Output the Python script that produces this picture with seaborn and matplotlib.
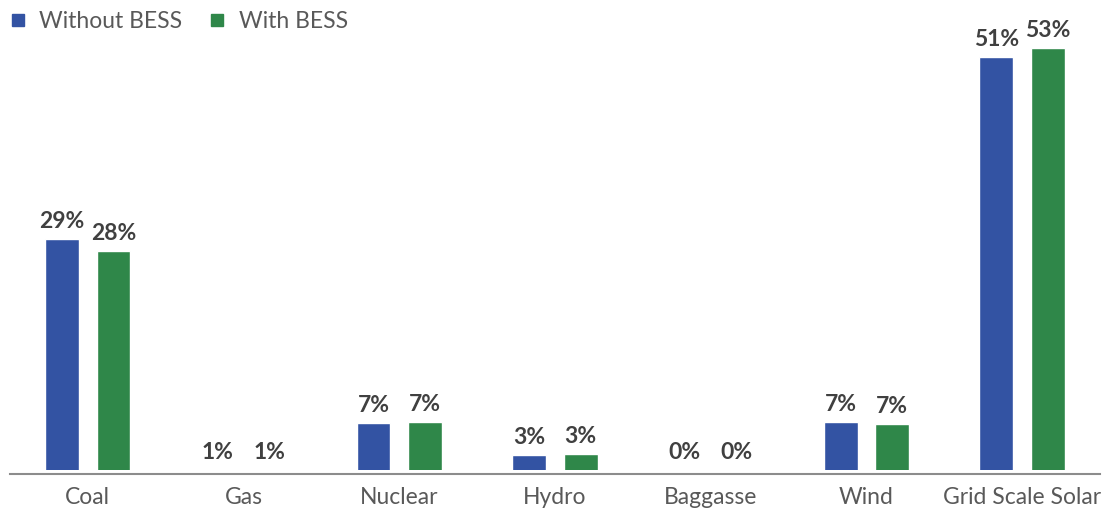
import matplotlib
matplotlib.use("Agg")
import matplotlib.pyplot as plt
from matplotlib.lines import Line2D
import seaborn as sns
import pandas as pd

# Generation share by source, in percent
sources = ["Coal", "Gas", "Nuclear", "Hydro", "Baggasse", "Wind", "Grid Scale Solar"]
without_bess = [29.2, 1.0, 6.8, 2.9, 0.3, 6.9, 51.4]
with_bess = [27.8, 1.0, 6.9, 3.0, 0.3, 6.7, 52.6]
scenarios = ["Without BESS", "With BESS"]
colors = ["#3353A3", "#2F8749"]

df = pd.DataFrame({
    "source": sources * 2,
    "share": without_bess + with_bess,
    "scenario": [scenarios[0]] * len(sources) + [scenarios[1]] * len(sources),
})

sns.set_theme(style="white")
plt.rcParams["font.family"] = ["Lato", "DejaVu Sans"]
text_color = "#595959"

fig = plt.figure(figsize=(11.02, 5.11), dpi=100)
ax = fig.add_axes([0.009, 0.080, 0.989, 0.920])

sns.barplot(data=df, x="source", y="share", hue="scenario", order=sources,
            hue_order=scenarios, palette=colors, width=0.66, gap=0.34,
            ax=ax, legend=False, saturation=1)

ymin, ymax = 1.05, 58.4
ax.set_ylim(ymin, ymax)
ax.set_xlim(-0.5, len(sources) - 0.5)

# Value labels above each bar (resting on the axis for very small shares)
for container in ax.containers:
    for patch in container:
        val = patch.get_height()
        xc = patch.get_x() + patch.get_width() / 2
        ax.annotate(f"{val:.0f}%", (xc, max(val, ymin)), xytext=(0, 5),
                    textcoords="offset points", ha="center", va="bottom",
                    fontsize=16.5, fontweight="bold", color="#404040")

for side in ["left", "right", "top"]:
    ax.spines[side].set_visible(False)
ax.spines["bottom"].set_color("#8C8C8C")
ax.spines["bottom"].set_linewidth(1.5)
ax.spines["bottom"].set_position(("outward", 3))
ax.set_yticks([])
ax.set_xlabel("")
ax.set_ylabel("")
ax.tick_params(axis="x", length=0, pad=9, labelsize=16.5, labelcolor=text_color)

handles = [Line2D([], [], marker="s", linestyle="none", markersize=8,
                  markerfacecolor=c, markeredgecolor=c) for c in colors]
fig.legend(handles, scenarios, loc="upper left", bbox_to_anchor=(-0.011, 1.018),
           ncol=2, frameon=False, fontsize=16.5, labelcolor=text_color,
           handletextpad=0.55, columnspacing=1.1, handlelength=0.8)

fig.savefig("out.png", dpi=100)
